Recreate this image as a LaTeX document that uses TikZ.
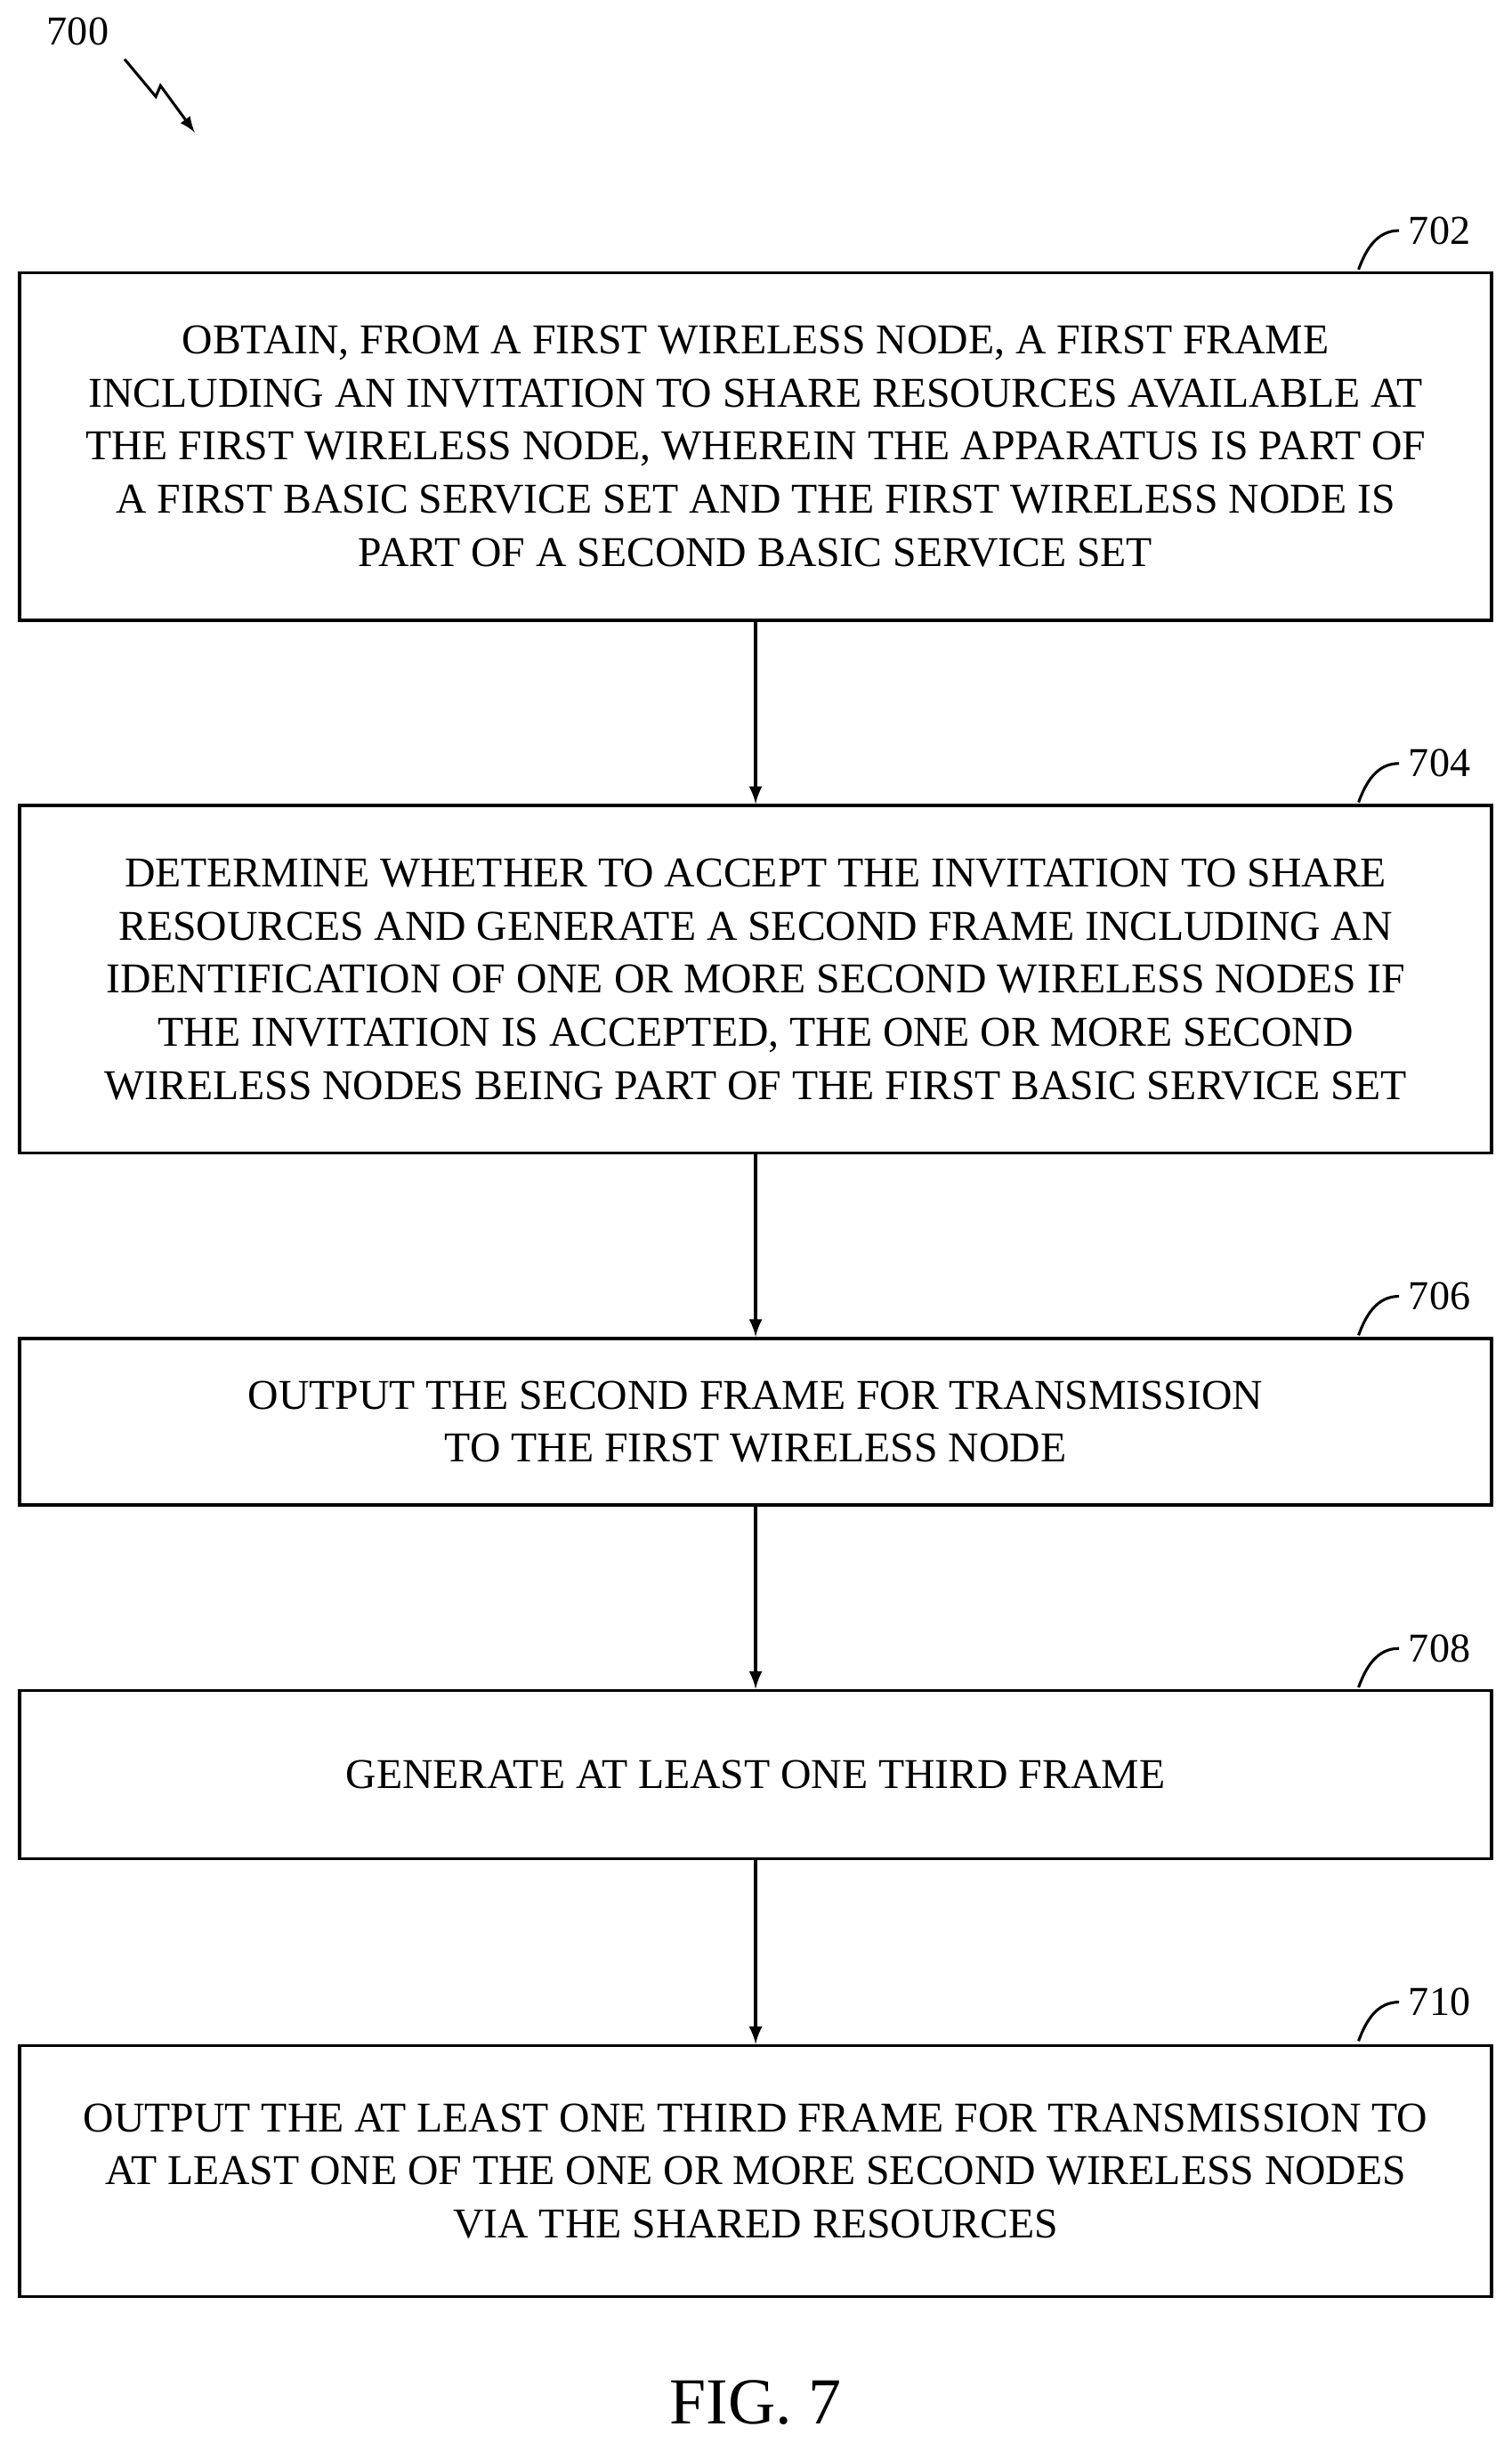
\documentclass[tikz,border=0pt]{standalone}
\usepackage{fontspec}
\setmainfont{Liberation Serif}
\begin{document}
\begin{tikzpicture}[x=0.02cm,y=-0.02cm,
box/.style={draw,line width=1.2pt,minimum width=18.9cm,align=center,inner sep=0pt,font=\fontsize{15.5}{19.4}\selectfont},
arr/.style={-latex,line width=1.2pt},
lab/.style={font=\fontsize{15}{18}\selectfont}]
\useasboundingbox (0,0) rectangle (970,1568);
\node[box,minimum height=4.46cm] (b1) at (485,286.5) {OBTAIN, FROM A FIRST WIRELESS NODE, A FIRST FRAME\\INCLUDING AN INVITATION TO SHARE RESOURCES AVAILABLE AT\\THE FIRST WIRELESS NODE, WHEREIN THE APPARATUS IS PART OF\\A FIRST BASIC SERVICE SET AND THE FIRST WIRELESS NODE IS\\PART OF A SECOND BASIC SERVICE SET};
\node[box,minimum height=4.46cm] (b2) at (485,628.5) {DETERMINE WHETHER TO ACCEPT THE INVITATION TO SHARE\\RESOURCES AND GENERATE A SECOND FRAME INCLUDING AN\\IDENTIFICATION OF ONE OR MORE SECOND WIRELESS NODES IF\\THE INVITATION IS ACCEPTED, THE ONE OR MORE SECOND\\WIRELESS NODES BEING PART OF THE FIRST BASIC SERVICE SET};
\node[box,minimum height=2.14cm] (b3) at (485,912.5) {OUTPUT THE SECOND FRAME FOR TRANSMISSION\\TO THE FIRST WIRELESS NODE};
\node[box,minimum height=2.16cm] (b4) at (485,1139) {GENERATE AT LEAST ONE THIRD FRAME};
\node[box,minimum height=3.22cm] (b5) at (485,1393.5) {OUTPUT THE AT LEAST ONE THIRD FRAME FOR TRANSMISSION TO\\AT LEAST ONE OF THE ONE OR MORE SECOND WIRELESS NODES\\VIA THE SHARED RESOURCES};
\draw[arr] (b1) -- (b2);
\draw[arr] (b2) -- (b3);
\draw[arr] (b3) -- (b4);
\draw[arr] (b4) -- (b5);
\foreach \n/\t/\y in {b1/702/148,b2/704/490,b3/706/832,b4/708/1058,b5/710/1285}{
  \node[lab,anchor=west] (l\t) at (898,\y) {\t};
  \draw[line width=1pt] (872,\y+25) to[out=70,in=180] (l\t.west);
}
\node[lab] (l700) at (50,20) {700};
\coordinate (z0) at (80,38);
\coordinate (z3) at (125,85);
\draw[line width=1pt,-latex] (z0) -- (100,62) -- (103,55) -- (z3);
\node[font=\fontsize{24}{28}\selectfont] (fig) at (485,1542) {FIG. 7};
\end{tikzpicture}
\end{document}
